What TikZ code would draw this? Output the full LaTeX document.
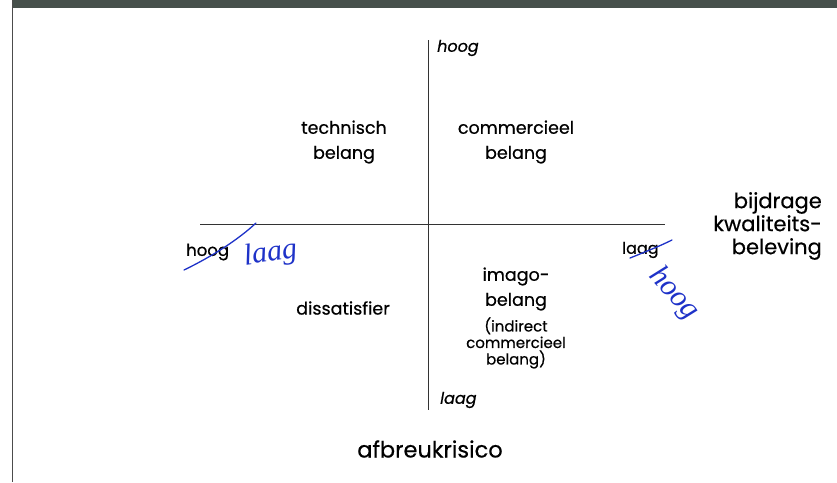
\documentclass[tikz,border=0pt]{standalone}
\usepackage{fontspec}
\setmainfont{Poppins}[FakeBold=0.5]
\newfontfamily\handfont{Liberation Serif}
\definecolor{inkblue}{RGB}{30,50,200}
\definecolor{band}{RGB}{70,80,75}
\begin{document}
\begin{tikzpicture}[x=1pt,y=-1pt,
  lbl/.style={inner sep=0pt, align=center, font=\fontsize{17.5}{25}\selectfont},
  small/.style={inner sep=0pt, align=center, font=\fontsize{15}{16.5}\selectfont},
  axlbl/.style={inner sep=0pt, font=\fontsize{16}{16}\selectfont\itshape},
  big/.style={inner sep=0pt, font=\fontsize{21}{23}\selectfont},
  hand/.style={inner sep=0pt, text=inkblue, font=\fontsize{30}{30}\handfont\itshape},
  axis/.style={draw=black!80, line width=0.9pt},
  ink/.style={draw=inkblue, line width=1.3pt, line cap=round}]
\useasboundingbox (0,0) rectangle (837,482);
\fill[band] (12,0) rectangle (837,8);
\draw[black!70, line width=1pt] (12,0) -- (12,482);
% axes
\coordinate (vt) at (428,40);
\coordinate (vb) at (428,410);
\coordinate (hl) at (200,224);
\coordinate (hr) at (665,224);
\draw[axis] (vt) -- (vb);
\draw[axis] (hl) -- (hr);
% axis labels
\node[axlbl, anchor=west] (vhoog) at (437,48) {hoog};
\node[axlbl, anchor=west] (vlaag) at (440,400) {laag};
\node[lbl, anchor=west, font=\fontsize{16.5}{18}\selectfont] (lhoog) at (186,252) {hoog};
\node[lbl, anchor=west, font=\fontsize{16}{18}\selectfont] (rlaag) at (622,250) {laag};
% quadrant texts
\node[lbl] (tech) at (344,142) {technisch\\belang};
\node[lbl] (comm) at (516,142) {commercieel\\belang};
\node[lbl] (diss) at (343,308) {dissatisfier};
\node[lbl] (imago) at (516,289) {imago-\\belang};
\node[small] (indir) at (516,343) {(indirect\\commercieel\\belang)};
% big labels
\node[big, align=right, anchor=east] (bijdr) at (822,226) {bijdrage\\kwaliteits-\\beleving};
\node[big, font=\fontsize{22.5}{24}\selectfont] (afbr) at (430,449) {afbreukrisico};
% handwritten corrections
\draw[ink] (184,270) .. controls (215,255) and (240,238) .. (256,223);
\node[hand, rotate=8, anchor=west] (hlaag) at (244,258) {laag};
\draw[ink] (630,258) .. controls (645,252) and (660,246) .. (672,240);
\node[hand, rotate=-48, anchor=center] (hhoog) at (674,294) {hoog};
\end{tikzpicture}
\end{document}
